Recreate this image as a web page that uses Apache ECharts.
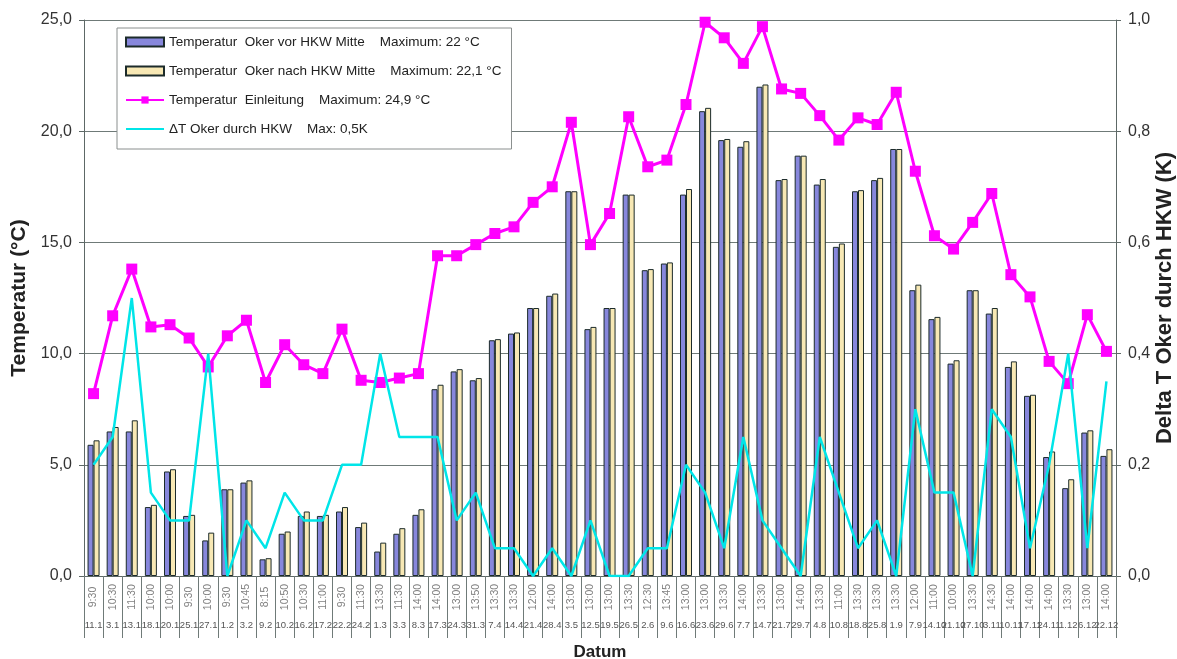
<!DOCTYPE html>
<html>
<head>
<meta charset="utf-8">
<script src="https://cdn.jsdelivr.net/npm/echarts@6/dist/echarts.min.js"></script>
<style>
html,body{margin:0;padding:0;background:#fff;overflow:hidden;}
#chart{width:1177px;height:659px;}
</style>
</head>
<body>
<div id="chart"></div>
<script>
const times = ['9:30','10:30','11:30','10:00','10:00','9:30','10:00','9:30','10:45','8:15','10:50','10:30','11:00','9:30','11:30','13:30','11:30','14:00','14:00','13:00','13:50','13:30','13:30','12:00','14:00','13:00','13:00','13:00','13:30','12:30','13:45','13:00','13:00','13:30','14:00','13:30','13:00','14:00','13:30','11:00','13:30','13:30','13:30','12:00','11:00','10:00','13:30','14:30','14:00','14:00','14:00','13:30','13:00','14:00'];
const dates = ['11.1','3.1','13.1','18.1','20.1','25.1','27.1','1.2','3.2','9.2','10.2','16.2','17.2','22.2','24.2','1.3','3.3','8.3','17.3','24.3','31.3','7.4','14.4','21.4','28.4','3.5','12.5','19.5','26.5','2.6','9.6','16.6','23.6','29.6','7.7','14.7','21.7','29.7','4.8','10.8','18.8','25.8','1.9','7.9','14.10','21.10','27.10','3.11','10.11','17.11','24.11','1.12','6.12','22.12'];
const okerVor = [5.9,6.5,6.5,3.1,4.7,2.7,1.6,3.9,4.2,0.75,1.9,2.7,2.7,2.9,2.2,1.1,1.9,2.75,8.4,9.2,8.8,10.6,10.9,12.05,12.6,17.3,11.1,12.05,17.15,13.75,14.05,17.15,20.9,19.6,19.3,22.0,17.8,18.9,17.6,14.8,17.3,17.8,19.2,12.85,11.55,9.55,12.85,11.8,9.4,8.1,5.35,3.95,6.45,5.4];
const okerNach = [6.1,6.7,7.0,3.2,4.8,2.75,1.95,3.9,4.3,0.8,2.0,2.9,2.75,3.1,2.4,1.5,2.15,3.0,8.6,9.3,8.9,10.65,10.95,12.05,12.7,17.3,11.2,12.05,17.15,13.8,14.1,17.4,21.05,19.65,19.55,22.1,17.85,18.9,17.85,14.95,17.35,17.9,19.2,13.1,11.65,9.7,12.85,12.05,9.65,8.15,5.6,4.35,6.55,5.7];
const einleitung = [8.2,11.7,13.8,11.2,11.3,10.7,9.4,10.8,11.5,8.7,10.4,9.5,9.1,11.1,8.8,8.7,8.9,9.1,14.4,14.4,14.9,15.4,15.7,16.8,17.5,20.4,14.9,16.3,20.65,18.4,18.7,21.2,24.9,24.2,23.05,24.7,21.9,21.7,20.7,19.6,20.6,20.3,21.75,18.2,15.3,14.7,15.9,17.2,13.55,12.55,9.65,8.65,11.75,10.1];
const deltaT = [0.2,0.25,0.5,0.15,0.1,0.1,0.4,0,0.1,0.05,0.15,0.1,0.1,0.2,0.2,0.4,0.25,0.25,0.25,0.1,0.15,0.05,0.05,0,0.05,0,0.1,0,0,0.05,0.05,0.2,0.15,0.05,0.25,0.1,0.05,0,0.25,0.15,0.05,0.1,0,0.3,0.15,0.15,0,0.3,0.25,0.05,0.2,0.4,0.05,0.35];
const leftTicks = {min:0, max:25, interval:5};
const rightTicks = {min:0, max:1, interval:0.2};
const names = [
  'Temperatur  Oker vor HKW Mitte    Maximum: 22 °C',
  'Temperatur  Oker nach HKW Mitte    Maximum: 22,1 °C',
  'Temperatur  Einleitung    Maximum: 24,9 °C',
  'ΔT Oker durch HKW    Max: 0,5K'
];

const fmt = v => v.toFixed(1).replace('.', ',');
const FONT = '"Liberation Sans", Arial, sans-serif';
const chart = echarts.init(document.getElementById('chart'), null, {renderer:'canvas'});
chart.setOption({
  animation: false,
  backgroundColor: '#ffffff',
  textStyle: {fontFamily: FONT},
  grid: {left: 84, right: 61, top: 20, bottom: 83, containLabel: false, outerBoundsMode: 'none'},
  legend: {
    orient: 'vertical', left: 117, top: 28,
    backgroundColor: '#ffffff', borderColor: '#8a8f8e', borderWidth: 1,
    padding: [7, 10, 13, 8], itemGap: 15, itemWidth: 38, itemHeight: 9,
    textStyle: {fontSize: 13.5, color: '#222', fontFamily: FONT},
    data: [
      {name: names[0], icon: 'rect'},
      {name: names[1], icon: 'rect'},
      {name: names[2]},
      {name: names[3], itemStyle: {opacity: 0}}
    ]
  },
  xAxis: [
    {
      type: 'category', data: times, position: 'bottom',
      axisLine: {lineStyle: {color: '#5d6866', width: 1}},
      axisTick: {show: true, interval: 0, length: 62, lineStyle: {color: '#6f7a78'}},
      axisLabel: {interval: 0, rotate: 90, fontSize: 10.5, color: '#808080', margin: 21, align: 'center', verticalAlign: 'middle', fontFamily: FONT},
      splitLine: {show: false}
    },
    {
      type: 'category', data: dates, position: 'bottom',
      axisLine: {show: false}, axisTick: {show: false},
      axisLabel: {interval: 0, fontSize: 9.5, color: '#555', margin: 44, fontFamily: FONT},
      name: 'Datum', nameLocation: 'middle', nameGap: 68,
      nameTextStyle: {fontWeight: 'bold', fontSize: 17, color: '#222', fontFamily: FONT}
    }
  ],
  yAxis: [
    {
      type: 'value', min: leftTicks.min, max: leftTicks.max, interval: leftTicks.interval,
      axisLine: {show: true, lineStyle: {color: '#5d6866'}},
      axisTick: {show: true, length: 5, lineStyle: {color: '#5d6866'}},
      axisLabel: {formatter: fmt, fontSize: 16, color: '#333', margin: 12, fontFamily: FONT},
      splitLine: {show: true, lineStyle: {color: '#6f7a78', width: 1}},
      name: 'Temperatur (°C)', nameLocation: 'middle', nameGap: 52,
      nameTextStyle: {fontWeight: 'bold', fontSize: 21, color: '#222', fontFamily: FONT}
    },
    {
      type: 'value', min: rightTicks.min, max: rightTicks.max, interval: rightTicks.interval, position: 'right',
      axisLine: {show: true, lineStyle: {color: '#5d6866'}},
      axisTick: {show: true, length: 5, lineStyle: {color: '#5d6866'}},
      axisLabel: {formatter: fmt, fontSize: 16, color: '#333', margin: 12, fontFamily: FONT},
      splitLine: {show: false},
      name: 'Delta T Oker durch HKW (K)', nameLocation: 'middle', nameGap: 38, nameMoveOverlap: false,
      nameTextStyle: {fontWeight: 'bold', fontSize: 22, color: '#222', fontFamily: FONT}
    }
  ],
  series: [
    {
      name: names[0], type: 'bar', data: okerVor, barWidth: 6, barGap: '0%',
      itemStyle: {color: '#8787dc', borderColor: '#1c2b2a', borderWidth: 1}
    },
    {
      name: names[1], type: 'bar', data: okerNach, barWidth: 6, barGap: '0%',
      itemStyle: {color: '#f7e8b4', borderColor: '#1c2b2a', borderWidth: 1}
    },
    {
      name: names[2], type: 'line', data: einleitung, symbol: 'rect', symbolSize: 11,
      lineStyle: {color: '#ff00ff', width: 3}, itemStyle: {color: '#ff00ff'}, z: 3
    },
    {
      name: names[3], type: 'line', yAxisIndex: 1, data: deltaT, symbol: 'none',
      lineStyle: {color: '#00e5e8', width: 2.5}, itemStyle: {color: '#00e5e8'}, z: 4
    }
  ]
});
</script>
</body>
</html>
